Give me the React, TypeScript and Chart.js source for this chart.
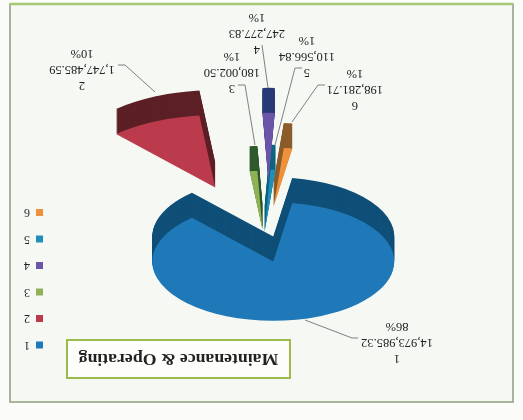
import React, { useEffect, useRef } from "react";
import { Chart, registerables } from "chart.js";

Chart.register(...registerables);

const W = 523;
const H = 420;

const categories = ["1", "2", "3", "4", "5", "6"];
const values = [14973985.32, 1747485.59, 180002.5, 247277.83, 110566.84, 198281.71];
const valueLabels = ["14,973,985.32", "1,747,485.59", "180,002.50", "247,277.83", "110,566.84", "198,281.71"];
const percents = ["86%", "10%", "1%", "1%", "1%", "1%"];
const titleText = "Maintenance & Operating";

const faceColors = ["#1f78b8", "#bb3a4c", "#8fb256", "#6a55a8", "#1f8fb8", "#ef9138"];
const wallColors = ["#0f4f78", "#5c2026", "#2e5a2c", "#2a3a78", "#0f6480", "#8c5c2c"];
const explode = [14, 148, 51, 151, 46, 98];
const explodeTurn = [0, 2.8, -3.2, -0.4, -9.7, -4.5];
const radiusScale = [1, 1.22, 1, 1.15, 1.06, 1];
const FLATTEN = 0.49;
const WALL = 25;

// Positions below are given as seen in the (upside-down) picture
const labelPos = [
  [397, 358], [82, 85], [232, 88], [257, 49], [307, 72], [355, 105],
];
const leaders = [
  [[305, 320], [352, 338], [358, 338]],
  [[155, 92], [125, 65], [118, 65]],
  [[255, 145], [245, 85], [238, 85]],
  [[268, 88], [262, 45]],
  [[275, 145], [295, 68], [302, 68]],
  [[292, 122], [318, 85], [325, 85]],
];
const titleBox = [67, 340, 290, 378];
const frameBox = [10, 4, 513, 402];

const px = (x: number) => W - x;
const py = (y: number) => H - y;

const pie3d = {
  id: "pie3d",
  afterDatasetsUpdate(chart: any) {
    const arcs = chart.getDatasetMeta(0).data;
    arcs.forEach((arc: any, i: number) => {
      const mid = (arc.startAngle + arc.endAngle) / 2 + (explodeTurn[i] * Math.PI) / 180;
      arc.x += Math.cos(mid) * explode[i];
      arc.y += Math.sin(mid) * explode[i];
      arc.outerRadius *= radiusScale[i];
    });
  },
  beforeDraw(chart: any) {
    const { ctx } = chart;
    ctx.save();
    ctx.fillStyle = "#fbfcfa";
    ctx.fillRect(0, 0, W, H);
    ctx.fillStyle = "#f6f8f4";
    const [l, t, r, b] = frameBox;
    ctx.fillRect(px(r), py(b), r - l, b - t);
    ctx.strokeStyle = "#8d9c80";
    ctx.lineWidth = 1.5;
    ctx.strokeRect(px(r), py(b), r - l, b - t);
    ctx.strokeStyle = "#a9c873";
    ctx.lineWidth = 2.5;
    ctx.beginPath();
    ctx.moveTo(px(r), py(t));
    ctx.lineTo(px(l), py(t));
    ctx.stroke();
    ctx.restore();
  },
  beforeDatasetsDraw(chart: any) {
    const { ctx, chartArea } = chart;
    const cy = (chartArea.top + chartArea.bottom) / 2;
    const arcs = chart.getDatasetMeta(0).data;
    arcs.forEach((arc: any, i: number) => {
      const saved = arc.options;
      arc.options = { ...saved, backgroundColor: wallColors[i], borderWidth: 0 };
      for (let d = WALL; d >= 1; d--) {
        ctx.save();
        ctx.translate(0, cy + d);
        ctx.scale(1, FLATTEN);
        ctx.translate(0, -cy);
        arc.draw(ctx);
        ctx.restore();
      }
      arc.options = saved;
    });
    ctx.save();
    ctx.translate(0, cy);
    ctx.scale(1, FLATTEN);
    ctx.translate(0, -cy);
  },
  afterDatasetsDraw(chart: any) {
    const { ctx } = chart;
    ctx.restore();
    ctx.save();
    // leader lines
    ctx.strokeStyle = "#808080";
    ctx.lineWidth = 1;
    leaders.forEach((line) => {
      ctx.beginPath();
      line.forEach(([x, y], k) => (k ? ctx.lineTo(px(x), py(y)) : ctx.moveTo(px(x), py(y))));
      ctx.stroke();
    });
    // data labels
    ctx.fillStyle = "#222222";
    ctx.font = "12.5px 'Liberation Serif'";
    ctx.textAlign = "center";
    ctx.textBaseline = "middle";
    categories.forEach((c, i) => {
      const [x, y] = labelPos[i];
      ctx.fillText(c, px(x), py(y));
      ctx.fillText(valueLabels[i], px(x), py(y) + 16);
      ctx.fillText(percents[i], px(x), py(y) + 32);
    });
    // title box
    const [l, t, r, b] = titleBox;
    ctx.fillStyle = "#fdfdfb";
    ctx.fillRect(px(r), py(b), r - l, b - t);
    ctx.strokeStyle = "#9dbb4c";
    ctx.lineWidth = 2;
    ctx.strokeRect(px(r), py(b), r - l, b - t);
    ctx.fillStyle = "#222222";
    ctx.font = "bold 17.7px 'Liberation Serif'";
    ctx.fillText(titleText, px((l + r) / 2), py((t + b) / 2));
    ctx.restore();
  },
};

export default function App() {
  const ref = useRef<HTMLCanvasElement>(null);
  useEffect(() => {
    const chart = new Chart(ref.current as HTMLCanvasElement, {
      type: "pie",
      data: {
        labels: categories,
        datasets: [
          {
            data: values,
            backgroundColor: faceColors,
            borderWidth: 0,
            clip: false,
          } as any,
        ],
      },
      options: {
        animation: false,
        responsive: false,
        devicePixelRatio: 1,
        rotation: 189,
        radius: 121,
        layout: { padding: { left: 42, right: 14, top: 54.5, bottom: 144.5 } },
        plugins: {
          tooltip: { enabled: false },
          legend: {
            position: "right",
            align: "start",
            labels: {
              boxWidth: 7,
              boxHeight: 7,
              padding: 14.5,
              color: "#222222",
              font: { family: "'Liberation Serif'", size: 12 },
            },
          },
        },
      } as any,
      plugins: [pie3d],
    });
    return () => chart.destroy();
  }, []);
  return (
    <div style={{ position: "absolute", left: 0, top: 0, width: W, height: H, transform: "rotate(180deg)", filter: "blur(0.5px)" }}>
      <canvas ref={ref} width={W} height={H} style={{ display: "block" }} />
    </div>
  );
}
